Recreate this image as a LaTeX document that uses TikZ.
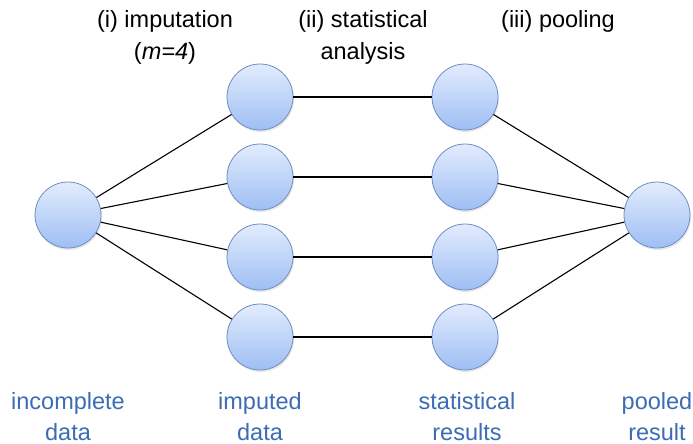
\documentclass[tikz,border=0pt]{standalone}
\usepackage{fontspec}
\setmainfont{Liberation Sans}
\usetikzlibrary{shadows}
\definecolor{ballTop}{HTML}{E2ECFC}
\definecolor{ballBot}{HTML}{9EBEF4}
\definecolor{ballEdge}{HTML}{6E8EC2}
\definecolor{labelBlue}{HTML}{3B6CB4}
\tikzset{
  ball/.style={circle, minimum size=66pt, inner sep=0pt, draw=ballEdge, line width=0.8pt,
    top color=ballTop, bottom color=ballBot,
    drop shadow={opacity=0.18, shadow xshift=1pt, shadow yshift=-2pt}},
  link/.style={draw=black, line width=1.1pt},
  head/.style={font=\fontsize{23.5}{32}\selectfont, align=center, text=black, inner sep=0pt},
  foot/.style={font=\fontsize{23.5}{31}\selectfont, align=center, text=labelBlue, inner sep=0pt}
}
\begin{document}
\begin{tikzpicture}[x=1pt,y=-1pt]
\useasboundingbox (0,0) rectangle (693,444);
% source data
\node[ball] (inc) at (68,215) {};
% imputed data sets
\node[ball] (imp1) at (260,97) {};
\node[ball] (imp2) at (260,177) {};
\node[ball] (imp3) at (260,257) {};
\node[ball] (imp4) at (260,337) {};
% analysis results
\node[ball] (res1) at (465,97) {};
\node[ball] (res2) at (465,177) {};
\node[ball] (res3) at (465,257) {};
\node[ball] (res4) at (465,337) {};
% pooled estimate
\node[ball] (pool) at (657,215) {};
% connectors
\foreach \i in {1,...,4}{
  \draw[link] (inc) -- (imp\i);
  \draw[link] (imp\i) -- (res\i);
  \draw[link] (res\i) -- (pool);
}
% stage headings
\node[head] (h1) at (165,37) {(i) imputation\\(\textit{m=4})};
\node[head] (h2) at (363,37) {(ii) statistical\\analysis};
\node[head] (h3) at (558,21) {(iii) pooling};
% column captions
\node[foot] (f1) at (68,417) {incomplete\\data};
\node[foot] (f2) at (260,417) {imputed\\data};
\node[foot] (f3) at (467,417) {statistical\\results};
\node[foot] (f4) at (657,417) {pooled\\result};
\end{tikzpicture}
\end{document}
